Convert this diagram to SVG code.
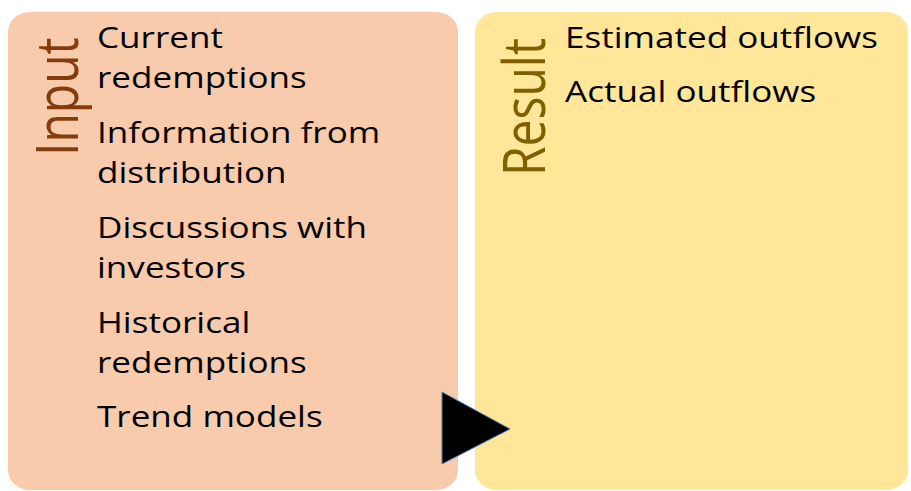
<svg xmlns="http://www.w3.org/2000/svg" width="911" height="491" viewBox="0 0 911 491">
  <style>
    .item { font-family: "Open Sans", "Liberation Sans", sans-serif; font-size: 28.4px; fill: #000; }
    .title { font-family: "Open Sans", "Liberation Sans", sans-serif; font-size: 48px; }
  </style>
  <rect width="911" height="491" fill="#ffffff"/>
  <g id="input">
    <rect x="8" y="12" width="450" height="478" rx="22" ry="20" fill="#F8CBAD"/>
    <text class="title" fill="#843C0C" transform="translate(78,156) scale(1.2,1) rotate(-90)">Input</text>
    <g transform="translate(97,0) scale(1.235,1)">
      <text class="item" x="0" y="48">Current</text>
      <text class="item" x="0" y="88">redemptions</text>
      <text class="item" x="0" y="143">Information from</text>
      <text class="item" x="0" y="183">distribution</text>
      <text class="item" x="0" y="238">Discussions with</text>
      <text class="item" x="0" y="278">investors</text>
      <text class="item" x="0" y="333">Historical</text>
      <text class="item" x="0" y="373">redemptions</text>
      <text class="item" x="0" y="427">Trend models</text>
    </g>
  </g>
  <g id="result">
    <rect x="475" y="12" width="433" height="478" rx="22" ry="20" fill="#FFE699"/>
    <text class="title" fill="#7F6000" transform="translate(545,176) scale(1.2,1) rotate(-90)">Result</text>
    <g transform="translate(565,0) scale(1.235,1)">
      <text class="item" x="0" y="48">Estimated outflows</text>
      <text class="item" x="0" y="102">Actual outflows</text>
    </g>
  </g>
  <g id="connectors">
    <polygon points="442,392 510,429 442,464" fill="#000000" stroke="#4A7EBB" stroke-width="1"/>
  </g>
</svg>
